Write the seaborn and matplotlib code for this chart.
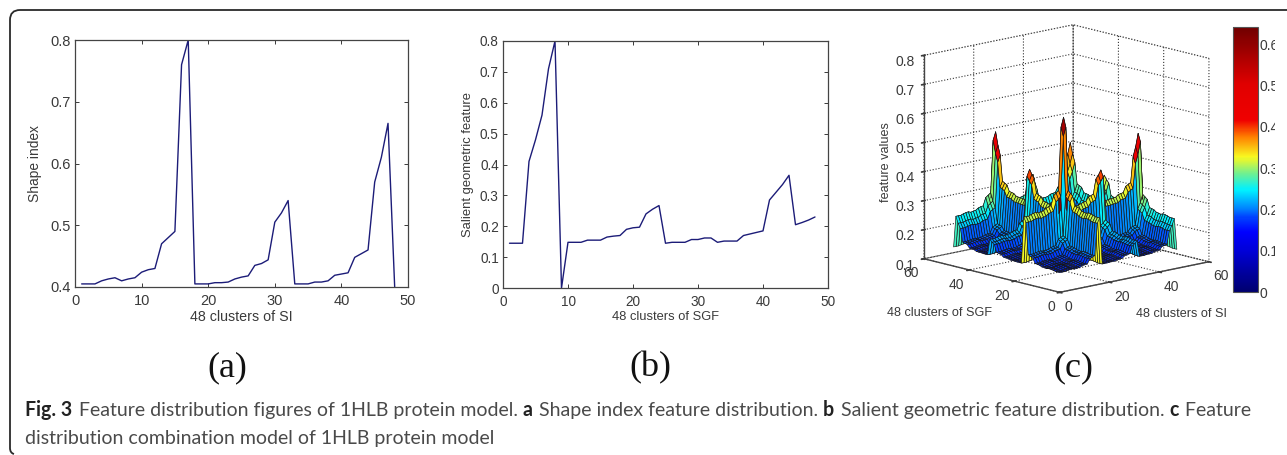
import numpy as np
import pandas as pd
import matplotlib
matplotlib.use('Agg')
import matplotlib.pyplot as plt
import seaborn as sns
from matplotlib.cm import ScalarMappable
from matplotlib.colors import LinearSegmentedColormap, Normalize
from matplotlib.patches import PathPatch
from matplotlib.path import Path
from matplotlib.transforms import Bbox

W, H = 1287, 455

# values
clusters = list(range(1, 49))
shape_index = [.405, .405, .405, .41, .413, .415, .41, .413, .415, .424, .428, .43,
               .47, .48, .49, .76, .80, .405, .405, .405, .407, .407, .408, .413,
               .416, .418, .435, .438, .444, .505, .52, .54, .405, .405, .405, .408,
               .408, .41, .419, .421, .423, .448, .454, .46, .57, .61, .665, .40]
salient = [.145, .145, .145, .41, .48, .56, .71, .80, 0, .148, .148, .148,
           .155, .155, .155, .165, .168, .17, .19, .195, .197, .24, .255, .267,
           .145, .148, .148, .148, .157, .157, .162, .162, .148, .152, .152, .152,
           .17, .175, .18, .185, .285, .31, .335, .365, .205, .212, .22, .23]

# colorbar stops
cbar_values = [0, .10, .145, .18, .20, .247, .287, .327, .376, .416, .505, .642]
cbar_colors = ['#00006e', '#0000d8', '#0000ff', '#0040ff', '#0080ff', '#00f0ff',
               '#70f090', '#f8f820', '#ff8000', '#f00000', '#e00000', '#700000']
cbar_ticks = [0, .1, .2, .3, .4, .5, .6]

sns.set_theme(style='white')
plt.rcParams['font.family'] = ['Liberation Sans', 'DejaVu Sans']
plt.rcParams['text.color'] = '#3a3a3a'
plt.rcParams['axes.labelcolor'] = '#3a3a3a'
plt.rcParams['xtick.color'] = '#3a3a3a'
plt.rcParams['ytick.color'] = '#3a3a3a'

fig = plt.figure(figsize=(W / 100, H / 100), dpi=100, facecolor='white')


def px_axes(x0, y0, x1, y1, **kw):
    return fig.add_axes([x0 / W, 1 - y1 / H, (x1 - x0) / W, (y1 - y0) / H], **kw)


def px_text(x, y, s, **kw):
    kw.setdefault('ha', 'center')
    kw.setdefault('va', 'center')
    return fig.text(x / W, 1 - y / H, s, **kw)


def line_panel(box, values, ylim, yticks, yticklabels, xlabel, ylabel, xlab_y, ylab_x,
               tick_size, xlab_size, ylab_size):
    ax = px_axes(*box)
    df = pd.DataFrame({'cluster': clusters, 'value': values})
    sns.lineplot(data=df, x='cluster', y='value', ax=ax, color='#1c1c78', linewidth=1.0,
                 errorbar=None)
    ax.set_xlim(0, 50)
    ax.set_ylim(*ylim)
    ax.set_xticks(range(0, 51, 10))
    ax.set_yticks(yticks)
    ax.set_yticklabels(yticklabels)
    ax.tick_params(direction='in', top=True, right=True, length=3, width=.7, labelsize=tick_size,
                   bottom=True, left=True)
    ax.tick_params(axis='x', pad=5)
    ax.tick_params(axis='y', pad=3)
    for s in ax.spines.values():
        s.set_color('#444444')
        s.set_linewidth(.9)
    ax.set_xlabel('')
    ax.set_ylabel('')
    px_text((box[0] + box[2]) / 2, xlab_y, xlabel, fontsize=xlab_size)
    px_text(ylab_x, (box[1] + box[3]) / 2, ylabel, fontsize=ylab_size, rotation=90)
    return ax


line_panel((75, 40, 408, 287), shape_index, (.4, .8), [.4, .5, .6, .7, .8],
           ['0.4', '0.5', '0.6', '0.7', '0.8'], '48 clusters of SI', 'Shape index', 317, 35,
           10.5, 10.3, 9.9)
line_panel((503, 41, 828, 288), salient, (0, .8), [0, .1, .2, .3, .4, .5, .6, .7, .8],
           ['0', '0.1', '0.2', '0.3', '0.4', '0.5', '0.6', '0.7', '0.8'],
           '48 clusters of SGF', 'Salient geometric feature', 317, 468, 9.8, 9.3, 9.4)

# panel (c): surface is the product of the shape index curve with itself,
# peaks and the colorbar top (0.64 = 0.8 * 0.8) agree with that
cmap = LinearSegmentedColormap.from_list(
    'feature', [(v / cbar_values[-1], c) for v, c in zip(cbar_values, cbar_colors)], N=256)
norm = Normalize(0, cbar_values[-1])
X, Y = np.meshgrid(clusters, clusters)
Z = np.outer(shape_index, shape_index)

ax3 = px_axes(882, -2, 1242, 328, projection='3d')
ax3.set_proj_type('ortho')
ax3.view_init(elev=13, azim=-132.3)
ax3.set_box_aspect((1, 1, 1.035), zoom=1.04)
ax3.patch.set_alpha(0)
# each face takes the colour of its first corner, as the original surface does
ax3.plot_surface(X, Y, Z, facecolors=cmap(norm(Z)), rstride=1, cstride=1, shade=False,
                 edgecolor='#151515', linewidth=.45, antialiased=True)
ax3.set_xlim(0, 60)
ax3.set_ylim(0, 60)
ax3.set_zlim(.1, .8)
ax3.set_xticks([0, 20, 40, 60])
ax3.set_yticks([0, 20, 40, 60])
ax3.set_zticks([.1, .2, .3, .4, .5, .6, .7, .8])
ax3.set_zticklabels(['0.1', '0.2', '0.3', '0.4', '0.5', '0.6', '0.7', '0.8'])
ax3.tick_params(labelsize=10, pad=-4)
ax3.tick_params(axis='z', pad=0)
ax3.zaxis.set_ticks_position('upper')
# floor labels lean away from the front corner
for lab in ax3.get_xticklabels():
    lab.set_ha('left')
for lab in ax3.get_yticklabels():
    lab.set_ha('right')
for axis in (ax3.xaxis, ax3.yaxis, ax3.zaxis):
    axis.pane.set_facecolor((1, 1, 1, 0))
    axis.pane.set_edgecolor('#333333')
    axis.pane.set_linestyle(':')
    axis.pane.set_linewidth(.8)
    axis._axinfo['grid'].update(color='#333333', linestyle=':', linewidth=.8)
    axis.line.set_color('#444444')
    axis.line.set_linewidth(1.0)
px_text(939, 313, '48 clusters of SGF', fontsize=9.1)
px_text(1181, 314, '48 clusters of SI', fontsize=9.1)
px_text(886, 162, 'feature values', fontsize=9.1, rotation=90)

cax = px_axes(1233, 27, 1258, 292)
cb = fig.colorbar(ScalarMappable(norm=norm, cmap=cmap), cax=cax, ticks=cbar_ticks)
cb.ax.set_yticklabels(['0', '0.1', '0.2', '0.3', '0.4', '0.5', '0.6'])
cb.ax.tick_params(direction='in', length=2, width=.6, labelsize=10, pad=1, right=True)
cb.outline.set_edgecolor('#555555')
cb.outline.set_linewidth(.8)
clip = Bbox([[1200, 0], [1275, H]])
for lab in cb.ax.get_yticklabels():
    lab.set_clip_on(True)
    lab.set_clip_box(clip)

# panel letters
for x, s in zip([227, 650, 1073], ['(a)', '(b)', '(c)']):
    px_text(x, 368, s, fontsize=26, family='Liberation Serif', color='#111111')

# caption, regular and bold runs placed one after the other
line1 = [('Fig. 3', True), (' Feature distribution figures of 1HLB protein model. ', False),
         ('a', True), (' Shape index feature distribution. ', False), ('b', True),
         (' Salient geometric feature distribution. ', False), ('c', True), (' Feature', False)]
line2 = [('distribution combination model of 1HLB protein model', False)]
renderer = fig.canvas.get_renderer()
cap_size = 14.05
for segs, y in [(line1, 416), (line2, 444)]:
    x = 25
    for s, bold in segs:
        t = fig.text(x / W, 1 - y / H, s, fontsize=cap_size, family='Lato', ha='left',
                     va='baseline', color='#222222' if bold else '#4a4a4a',
                     fontweight='bold' if bold else 'normal')
        # keep the spaces in the measured width
        probe = fig.text(0, 0, s.replace(' ', '\u00a0'), fontsize=cap_size, family='Lato',
                         fontweight='bold' if bold else 'normal')
        x += probe.get_window_extent(renderer).width + (1.5 if bold else 0)
        probe.remove()

# rounded frame around the figure
r = 10
pts = [(W, 10), (10 + r, 10), (10, 10), (10, 10 + r), (10, 448), (10, 453), (14, 454)]
codes = [Path.MOVETO, Path.LINETO, Path.CURVE3, Path.CURVE3, Path.LINETO, Path.CURVE3, Path.CURVE3]
frame = PathPatch(Path([(x / W, 1 - y / H) for x, y in pts], codes), fill=False,
                  edgecolor='#2a2a2a', linewidth=1.3, transform=fig.transFigure)
fig.add_artist(frame)

fig.savefig('out.png', dpi=100)
